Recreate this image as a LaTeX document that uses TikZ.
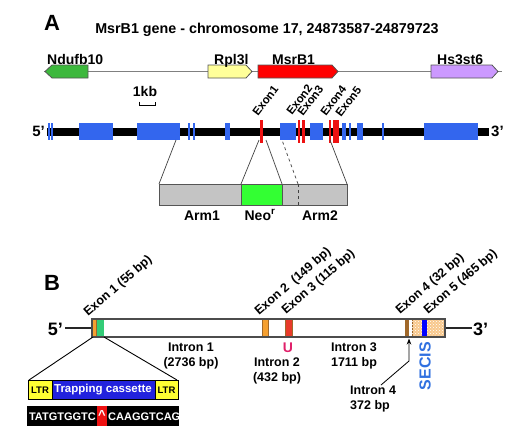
\documentclass[tikz,border=0pt]{standalone}
\usepackage{fontspec}
\setmainfont{Liberation Sans}
\usetikzlibrary{patterns,arrows.meta}
\definecolor{exblue}{HTML}{3366EE}
\definecolor{exred}{HTML}{EE1111}
\definecolor{gngreen}{HTML}{3CB83C}
\definecolor{gnyellow}{HTML}{FFFF99}
\definecolor{gnviolet}{HTML}{CC99FF}
\definecolor{neogreen}{HTML}{33FF33}
\definecolor{armgray}{HTML}{C4C4C4}
\definecolor{borderg}{HTML}{555555}
\definecolor{exorange}{HTML}{F5A030}
\definecolor{exgreen}{HTML}{33CC77}
\definecolor{exbrown}{HTML}{A0682A}
\definecolor{exredb}{HTML}{E83A2A}
\definecolor{upink}{HTML}{E0206A}
\definecolor{secis}{HTML}{3070E0}
\definecolor{ltryellow}{HTML}{FFFF33}
\definecolor{casblue}{HTML}{2222DD}
\definecolor{seqred}{HTML}{EE1111}
\definecolor{chkorange}{HTML}{F8C88C}
\begin{document}
\begin{tikzpicture}[x=1pt,y=-1pt,
  big/.style={font=\bfseries\fontsize{22}{22}\selectfont, inner sep=0pt},
  ttl/.style={font=\bfseries\fontsize{14.3}{14.3}\selectfont, inner sep=0pt},
  glbl/.style={font=\bfseries\fontsize{14}{14}\selectfont, inner sep=0pt},
  exa/.style={font=\bfseries\fontsize{11.5}{11.5}\selectfont, inner sep=0pt, rotate=53, anchor=base west},
  exb/.style={font=\bfseries\fontsize{12.5}{12.5}\selectfont, inner sep=0pt, rotate=41, anchor=base west},
  blbl/.style={font=\bfseries\fontsize{12.5}{15}\selectfont, inner sep=0pt, align=center},
  genearrow/.style={draw=borderg, line width=0.8pt},
  bluebox/.style={fill=exblue},
  redbar/.style={fill=exred},
  thinline/.style={draw=black!75, line width=0.7pt},
  exbox/.style={draw=exbrown, line width=0.6pt},
]
\useasboundingbox (0,0) rectangle (524,437);

% ---------------- Panel A ----------------
\node[big, anchor=base] (A) at (52,30) {A};
\node[ttl, anchor=base] (title) at (267,33.5) {MsrB1 gene - chromosome 17, 24873587-24879723};

\draw[gray, line width=0.8pt] (44,71.5) -- (502,71.5);
\draw[genearrow, fill=gngreen] (45,71.5) -- (52,65) -- (88,65) -- (88,78) -- (52,78) -- cycle;
\draw[genearrow, fill=gnyellow] (208,65) -- (246,65) -- (252,71.5) -- (246,78) -- (208,78) -- cycle;
\draw[genearrow, fill=red] (258,65) -- (332,65) -- (338,71.5) -- (332,78) -- (258,78) -- cycle;
\draw[genearrow, fill=gnviolet] (431,65) -- (492,65) -- (498,71.5) -- (492,78) -- (431,78) -- cycle;

\node[glbl, anchor=base west] (ndufb) at (47,64) {Ndufb10};
\node[glbl, anchor=base west] (rpl) at (214,64) {Rpl3l};
\node[glbl, anchor=base west] (msrb) at (272,64) {MsrB1};
\node[glbl, anchor=base west] (hs3) at (437,64) {Hs3st6};

\node[glbl, anchor=base] (kb) at (145,96.5) {1kb};
\draw[line width=1pt] (139,101.5) -- (139,105) -- (155,105) -- (155,101.5);

% chromosome
\draw[line width=8pt] (47,131.5) -- (489,131.5);
\node[glbl, font=\bfseries\fontsize{15}{15}\selectfont, anchor=east] (p5a) at (45,131) {5'};
\node[glbl, font=\bfseries\fontsize{15}{15}\selectfont, anchor=west] (p3a) at (491,131) {3'};

\foreach \x in {48.5,52,189,194,350,383} \fill[bluebox] (\x-1,123) rectangle (\x+1,140);
\foreach \a/\b in {79/113,137/180,225/230,280/296,310/323,342/346,357/363,424/478}
  \fill[bluebox] (\a,123) rectangle (\b,140);
\foreach \a/\b in {259.5/262.5,297.5/300,302/304.5,328.5/331,333/338.5}
  \fill[redbar] (\a,120) rectangle (\b,143);

\node[exa] (e1a) at (258,117) {Exon1};
\node[exa] (e2a) at (292,116) {Exon2};
\node[exa] (e3a) at (303,117) {Exon3};
\node[exa] (e4a) at (326,117) {Exon4};
\node[exa] (e5a) at (341,118) {Exon5};

% targeting construct
\coordinate (c1) at (159,184); \coordinate (c2) at (241,184);
\coordinate (c3) at (282,184); \coordinate (c4) at (298,184);
\coordinate (c5) at (347,184);
\coordinate (g1) at (176,140); \coordinate (g2) at (259,140);
\coordinate (g3) at (266,140); \coordinate (g4) at (282,140);
\coordinate (g5) at (330,140);
\draw[thinline] (c1) -- (g1);
\draw[thinline] (c2) -- (g2);
\draw[thinline] (c3) -- (g3);
\draw[thinline, dashed] (c4) -- (g4);
\draw[thinline] (c5) -- (g5);
\draw[draw=borderg, fill=armgray, line width=0.8pt] (159,184) rectangle (347,205);
\draw[draw=borderg, fill=neogreen, line width=0.8pt] (241,184) rectangle (282,205);
\draw[thinline, dashed] (298,184) -- (298,205);
\node[glbl, anchor=base] (arm1) at (202,220) {Arm1};
\node[glbl, anchor=base] (neo) at (260,220) {Neo\textsuperscript{r}};
\node[glbl, anchor=base] (arm2) at (320,220) {Arm2};

% ---------------- Panel B ----------------
\node[big, anchor=base] (B) at (52,290) {B};

\draw[line width=1.3pt, black!85] (65,328) -- (92,328);
\draw[line width=1.3pt, black!85] (445,328) -- (472,328);
\draw[draw=black!70, fill=white, line width=1.4pt] (92,319) rectangle (445,337);
\node[glbl, font=\bfseries\fontsize{18}{18}\selectfont, anchor=east] (p5b) at (63,329) {5'};
\node[glbl, font=\bfseries\fontsize{18}{18}\selectfont, anchor=west] (p3b) at (473,329) {3'};

\fill[exbox, fill=exorange] (92.5,319.7) rectangle (96.5,336.3);
\fill[fill=exgreen] (97,319.7) rectangle (104,336.3);
\draw[exbox, fill=exorange] (262,319.7) rectangle (268,336.3);
\draw[exbox, fill=exredb] (285,319.7) rectangle (292,336.3);
\draw[exbox, fill=exbrown] (405,319.7) rectangle (408,336.3);
\draw[exbox, fill=chkorange] (412,319.7) rectangle (444.3,336.3);
\fill[pattern=crosshatch dots, pattern color=white] (412,319.7) rectangle (444.3,336.3);
\fill[fill=blue] (422,320) rectangle (427,336);
\draw[draw=black!70, line width=1.4pt] (92,319) rectangle (445,337);

\node[exb] (e1b) at (88,317) {Exon 1 (55 bp)};
\node[exb] (e2b) at (259,316) {Exon 2~~(149 bp)};
\node[exb] (e3b) at (286,315) {Exon 3 (115 bp)};
\node[exb] (e4b) at (400,315) {Exon 4 (32 bp)};
\node[exb] (e5b) at (428,315) {Exon 5 (465 bp)};

\node[blbl] (in1) at (191,356) {Intron 1\\(2736 bp)};
\node[blbl, text=upink, font=\bfseries\fontsize{14}{14}\selectfont] (u) at (288,348) {U};
\node[blbl] (in2) at (277,371) {Intron 2\\(432 bp)};
\node[blbl] (in3) at (354,356) {Intron 3\\1711 bp};
\node[blbl, align=left, anchor=west] (in4) at (350,399) {Intron 4\\372 bp};
\node[font=\bfseries\fontsize{16}{16}\selectfont, text=secis, rotate=90, inner sep=0pt] (secis) at (425,366) {SECIS};
\coordinate (arrs) at (381,385);
\coordinate (arrk) at (409,361);
\coordinate (arre) at (409,338.5);
\draw[line width=0.8pt, -{Stealth[length=6pt,width=4.5pt]}] (arrs) -- (arrk) -- (arre);

% trapping cassette
\coordinate (t1) at (93,337); \coordinate (t2) at (104,337);
\coordinate (t3) at (29,380); \coordinate (t4) at (177,380);
\draw[line width=0.9pt] (t1) -- (t3);
\draw[line width=0.9pt] (t2) -- (t4);
\draw[fill=casblue, line width=0.8pt] (52,380.5) rectangle (155,399.5);
\draw[fill=ltryellow, line width=1pt] (28,380.5) rectangle (52,399.5);
\draw[fill=ltryellow, line width=1pt] (155,380.5) rectangle (178,399.5);
\node[font=\bfseries\fontsize{9.5}{9.5}\selectfont, inner sep=0pt] (ltr1) at (40,390) {LTR};
\node[font=\bfseries\fontsize{9.5}{9.5}\selectfont, inner sep=0pt] (ltr2) at (166.5,390) {LTR};
\node[font=\bfseries\fontsize{11.5}{11.5}\selectfont, text=white, inner sep=0pt] (trap) at (103,389.5) {Trapping cassette};

\fill[black] (27,406) rectangle (179,426);
\fill[seqred] (97,406) rectangle (107,426);
\node[font=\bfseries\fontsize{11}{11}\selectfont, text=white, inner sep=0pt, anchor=base east] (seq1) at (96,420.5) {TATGTGGTC};
\node[font=\bfseries\fontsize{13}{13}\selectfont, text=white, inner sep=0pt, anchor=base] (caret) at (102,419) {\^{}};
\node[font=\bfseries\fontsize{11}{11}\selectfont, text=white, inner sep=0pt, anchor=base west] (seq2) at (108,420.5) {CAAGGTCAG};
\end{tikzpicture}
\end{document}
